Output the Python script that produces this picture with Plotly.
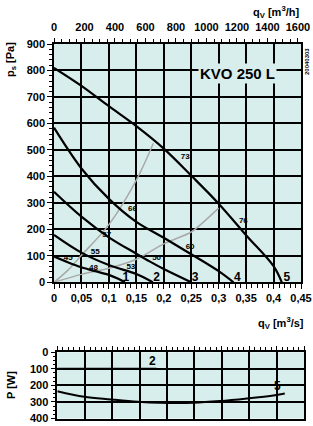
import plotly.graph_objects as go

# ---- data (q in m3/s, p in Pa) ----
c1_q = [0, 0.025, 0.05, 0.075, 0.1, 0.115, 0.129]
c1_p = [97, 76, 57, 42, 28, 15, 0]
c2_q = [0, 0.05, 0.1, 0.15, 0.18]
c2_p = [179, 112, 65, 31, 0]
c3_q = [0, 0.05, 0.1, 0.15, 0.175, 0.2, 0.25]
c3_p = [342, 248, 170, 108, 78, 50, 0]
c4_q = [0, 0.05, 0.1, 0.15, 0.2, 0.25, 0.3, 0.327]
c4_p = [584, 430, 315, 228, 168, 106, 42, 0]
c5_q = [0, 0.05, 0.1, 0.15, 0.2, 0.25, 0.3, 0.35, 0.4, 0.415]
c5_p = [810, 742, 665, 590, 505, 403, 297, 178, 61, 0]

g1_q = [0, 0.025, 0.05, 0.1, 0.15, 0.181]
g1_p = [0, 45, 102, 218, 386, 525]
g2_q = [0, 0.05, 0.1, 0.15, 0.2, 0.25, 0.266, 0.3]
g2_p = [0, 30, 53, 87, 145, 190, 216, 280]

eff_text = ["45", "48", "53", "55", "50", "57", "60", "66", "73", "76"]
eff_q = [0.026, 0.072, 0.140, 0.075, 0.187, 0.096, 0.248, 0.143, 0.239, 0.345]
eff_p = [90, 55, 57, 113, 90, 178, 135, 277, 472, 232]

num_text = ["1", "2", "3", "4", "5"]
num_q = [0.131, 0.187, 0.257, 0.334, 0.424]
num_p = [17, 17, 17, 17, 17]

# power (W)
w2_q = [0, 0.05, 0.1, 0.15, 0.181]
w2_p = [100, 100, 100, 100, 100]
w5_q = [0, 0.049, 0.098, 0.147, 0.187, 0.248, 0.297, 0.346, 0.397, 0.415]
w5_p = [235, 269, 285, 299, 305, 305, 295, 279, 259, 249]

x_ticks = [0, 0.05, 0.1, 0.15, 0.2, 0.25, 0.3, 0.35, 0.4, 0.45]
x_labels = ["0", "0,05", "0,1", "0,15", "0,2", "0,25", "0,3", "0,35", "0,4", "0,45"]
top_ticks = [0, 200, 400, 600, 800, 1000, 1200, 1400, 1600]
p_ticks = [0, 100, 200, 300, 400, 500, 600, 700, 800, 900]
w_ticks = [0, 100, 200, 300, 400]

BG = "#d8eeec"
FONT = "Liberation Sans"

W, H = 313, 426
def px(x):
    return x / W
def py(y):
    return 1 - y / H

fig = go.Figure()

for q, p in [(g1_q, g1_p), (g2_q, g2_p)]:
    fig.add_trace(go.Scatter(x=q, y=p, mode="lines", line=dict(color="#a9a9a9", width=1.5, shape="spline"),
                             xaxis="x", yaxis="y", hoverinfo="skip"))
for q, p in [(c1_q, c1_p), (c2_q, c2_p), (c3_q, c3_p), (c4_q, c4_p), (c5_q, c5_p)]:
    fig.add_trace(go.Scatter(x=q, y=p, mode="lines", line=dict(color="black", width=2.2, shape="spline"),
                             xaxis="x", yaxis="y", hoverinfo="skip"))
fig.add_trace(go.Scatter(x=eff_q, y=eff_p, mode="text", text=eff_text,
                         textfont=dict(family=FONT, size=8, color="black", weight="bold"),
                         xaxis="x", yaxis="y", hoverinfo="skip"))
fig.add_trace(go.Scatter(x=num_q, y=num_p, mode="text", text=num_text,
                         textfont=dict(family=FONT, size=12, color="black", weight="bold"),
                         xaxis="x", yaxis="y", hoverinfo="skip"))
# dummy for top axis
fig.add_trace(go.Scatter(x=[0, 1620], y=[None, None], mode="lines", xaxis="x2", yaxis="y",
                         showlegend=False, hoverinfo="skip"))

for q, p in [(w2_q, w2_p), (w5_q, w5_p)]:
    fig.add_trace(go.Scatter(x=q, y=p, mode="lines", line=dict(color="black", width=2, shape="spline"),
                             xaxis="x3", yaxis="y3", hoverinfo="skip"))

tickfont = dict(family=FONT, size=11, color="black", weight="bold")
common = dict(showline=True, linecolor="black", linewidth=1.5, mirror=True,
              showgrid=True, gridcolor="black", gridwidth=1.5, zeroline=False, automargin=False,
              ticks="outside", ticklen=5, tickwidth=1, tickcolor="black", tickfont=tickfont)

fig.update_layout(
    width=W, height=H, margin=dict(l=0, r=0, t=0, b=0, pad=0),
    paper_bgcolor="white", plot_bgcolor=BG, showlegend=False,
    xaxis=dict(domain=[px(54), px(301)], range=[0, 0.45], anchor="y",
               tickvals=x_ticks, ticktext=x_labels,
               minor=dict(dtick=0.01, ticks="outside", ticklen=4, tickcolor="black", showgrid=False),
               **common),
    xaxis2=dict(overlaying="x", side="top", range=[0, 1620], anchor="y",
                tickvals=top_ticks, showgrid=False, showline=False, zeroline=False, automargin=False,
                ticks="outside", ticklen=5, tickcolor="black", tickfont=tickfont,
                ticklabelstandoff=3,
                minor=dict(dtick=50, ticks="outside", ticklen=4, tickcolor="black")),
    yaxis=dict(domain=[py(282.3), py(44)], range=[0, 900], anchor="x",
               tickvals=p_ticks,
               minor=dict(dtick=20, ticks="outside", ticklen=3, tickcolor="black", showgrid=False),
               **common),
    xaxis3=dict(domain=[px(57.3), px(304)], range=[0, 0.45], anchor="y3", side="top",
                dtick=0.05, showticklabels=False,
                minor=dict(dtick=0.01, ticks="outside", ticklen=4, tickcolor="black", showgrid=False),
                **common),
    yaxis3=dict(domain=[py(418.5), py(352.3)], range=[400, 0], anchor="x3",
                tickvals=w_ticks,
                minor=dict(dtick=25, ticks="outside", ticklen=3, tickcolor="black", showgrid=False),
                **common),
)

lab = dict(family=FONT, size=11, color="black", weight="bold")
numfont = dict(family=FONT, size=12, color="black", weight="bold")
ann = [
    dict(x=0.335, y=790, xref="x", yref="y", text="KVO 250 L", showarrow=False,
         xanchor="center", yanchor="middle",
         font=dict(family=FONT, size=15, color="black", weight="bold"), bgcolor=BG),
    dict(x=px(276), y=py(12), xref="paper", yref="paper", text="q<sub>V</sub> [m<sup>3</sup>/h]",
         xanchor="center", yanchor="middle", showarrow=False, font=lab),
    dict(x=px(281), y=py(323), xref="paper", yref="paper", text="q<sub>V</sub> [m<sup>3</sup>/s]",
         xanchor="center", yanchor="middle", showarrow=False, font=lab),
    dict(x=px(11), y=py(60), xref="paper", yref="paper", text="p<sub>s</sub> [Pa]",
         xanchor="center", yanchor="middle", showarrow=False, textangle=-90, font=lab),
    dict(x=px(11), y=py(385), xref="paper", yref="paper", text="P [W]",
         xanchor="center", yanchor="middle", showarrow=False, textangle=-90, font=lab),
    dict(x=px(307), y=py(62), xref="paper", yref="paper", text="20040303",
         xanchor="center", yanchor="middle", showarrow=False, textangle=-90,
         font=dict(family=FONT, size=6, color="black", weight="bold")),
    dict(x=0.173, y=50, xref="x3", yref="y3", text="2", showarrow=False,
         xanchor="center", yanchor="middle", font=numfont),
    dict(x=0.401, y=205, xref="x3", yref="y3", text="5", showarrow=False,
         xanchor="center", yanchor="middle", font=numfont),
]
fig.update_layout(annotations=ann)

fig.write_html(
    "out.html",
    post_script="document.documentElement.style.overflow='hidden';document.body.style.overflow='hidden';",
)
